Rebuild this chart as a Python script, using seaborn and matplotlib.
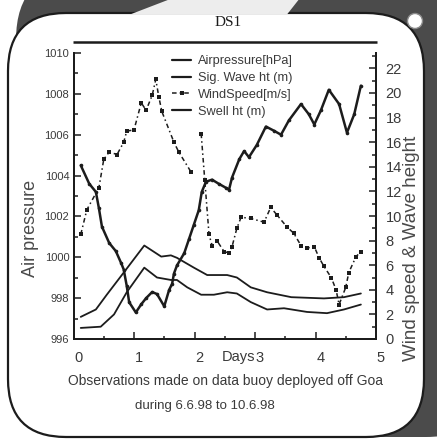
import matplotlib
matplotlib.use("Agg")
import matplotlib.pyplot as plt
from matplotlib.patches import FancyBboxPatch, Polygon, Circle
from matplotlib.lines import Line2D
from matplotlib.ticker import MultipleLocator
from matplotlib.transforms import ScaledTranslation
import pandas as pd
import seaborn as sns

# ---- data (days after deployment) ----
pressure_days = [0.12, 0.26, 0.37, 0.42, 0.47, 0.59, 0.70, 0.79, 0.83, 0.88, 0.92,
                 1.03, 1.12, 1.20, 1.30, 1.38, 1.50, 1.58, 1.63, 1.66, 1.71, 1.83,
                 1.91, 1.99, 2.07, 2.12, 2.19, 2.29, 2.40, 2.52, 2.57, 2.62, 2.74,
                 2.82, 2.90, 3.03, 3.18, 3.31, 3.43, 3.56, 3.76, 3.89, 3.98, 4.09,
                 4.22, 4.39, 4.52, 4.64, 4.75]
pressure_hpa = [1004.5, 1003.6, 1003.2, 1002.4, 1001.5, 1000.7, 1000.3, 999.7, 999.4,
                998.6, 997.8, 997.3, 997.7, 998.0, 998.3, 998.2, 997.6, 998.4, 998.7,
                999.2, 999.6, 1000.2, 1000.9, 1001.6, 1002.3, 1003.2, 1003.7, 1003.8,
                1003.6, 1003.4, 1003.3, 1003.9, 1004.8, 1005.2, 1004.9, 1005.5, 1006.4,
                1006.2, 1006.0, 1006.7, 1007.5, 1007.0, 1006.5, 1007.2, 1008.2, 1007.5,
                1006.1, 1007.0, 1008.4]

wave_days = [0.12, 0.37, 0.55, 0.83, 1.17, 1.45, 1.61, 1.71, 1.99, 2.21, 2.54, 2.70,
             2.93, 3.20, 3.60, 4.14, 4.47, 4.75]
sig_wave_ht = [1.8, 2.4, 3.6, 5.4, 7.6, 6.7, 6.8, 6.6, 5.8, 5.2, 5.2, 5.0, 4.2, 3.8,
               3.4, 3.3, 3.4, 3.7]

swell_days = [0.12, 0.45, 0.67, 0.88, 1.17, 1.38, 1.61, 1.71, 1.88, 2.11, 2.32, 2.54,
              2.70, 2.93, 3.20, 3.48, 3.86, 4.19, 4.47, 4.75]
swell_ht = [0.9, 1.0, 2.0, 3.8, 5.8, 5.0, 4.8, 4.8, 4.2, 3.6, 3.6, 3.8, 3.7, 3.0, 2.4,
            2.5, 2.2, 2.1, 2.4, 2.8]

wind_days_a = [0.12, 0.22, 0.42, 0.50, 0.59, 0.72, 0.83, 0.88, 1.00, 1.12, 1.20, 1.30,
               1.36, 1.41, 1.46, 1.66, 1.74, 1.94]
wind_speed_a = [8.5, 10.5, 12.3, 14.6, 15.2, 15.0, 16.0, 16.9, 17.0, 19.2, 18.6, 19.8,
                21.1, 19.7, 18.5, 16.0, 15.2, 13.6]
wind_days_b = [2.11, 2.17, 2.24, 2.29, 2.37, 2.49, 2.57, 2.62, 2.70, 2.77, 2.93, 3.15,
               3.26, 3.36, 3.53, 3.64, 3.76, 3.86, 3.98, 4.06, 4.14, 4.26, 4.34, 4.39,
               4.50, 4.55, 4.67, 4.75]
wind_speed_b = [16.7, 12.9, 8.5, 7.6, 8.0, 7.1, 7.0, 7.5, 9.0, 9.9, 9.8, 9.5, 10.7,
                10.1, 9.1, 8.6, 7.6, 7.4, 7.5, 6.6, 5.9, 5.0, 4.0, 2.8, 4.2, 5.4, 6.7, 7.1]

day_ticks = [0, 1, 2, 3, 4, 5]
pressure_ticks = [996, 998, 1000, 1002, 1004, 1006, 1008, 1010]
right_ticks = list(range(0, 23, 2))
legend_labels = ["Airpressure[hPa]", "Sig. Wave ht (m)", "WindSpeed[m/s]", "Swell ht (m)"]

pressure_df = pd.DataFrame({"day": pressure_days, "hPa": pressure_hpa})
wave_df = pd.DataFrame({"day": wave_days, "m": sig_wave_ht})
swell_df = pd.DataFrame({"day": swell_days, "m": swell_ht})
wind_df = pd.DataFrame({
    "day": wind_days_a + wind_days_b,
    "ms": wind_speed_a + wind_speed_b,
    "segment": [0] * len(wind_days_a) + [1] * len(wind_days_b),
})

sns.set_theme(style="white")
plt.rcParams["font.family"] = ["Liberation Sans", "DejaVu Sans"]
INK = "#1c1c1c"
GREY_TXT = "#3a3a3a"

W, H = 437, 443
fig = plt.figure(figsize=(W / 100, H / 100), dpi=100)
fig.patch.set_facecolor("white")

# ---- card frame drawn in pixel space ----
deco = fig.add_axes([0, 0, 1, 1], zorder=0)
deco.set_xlim(0, W)
deco.set_ylim(H, 0)
deco.axis("off")
deco.add_patch(FancyBboxPatch((16, -30), 480, 467,
                              boxstyle="round,pad=0,rounding_size=70",
                              fc="#4b4b4b", ec="none", zorder=1))
deco.add_patch(FancyBboxPatch((8, 13), 416, 424,
                              boxstyle="round,pad=0,rounding_size=58",
                              fc="white", ec=INK, lw=1.6, zorder=2))
deco.add_patch(Polygon([(130, 14.5), (173, -2), (300, -2), (287, 14.5)],
                       closed=True, fc="#ededed", ec="none", zorder=3))
deco.add_patch(Circle((415, 21), 7.5, fc="white", ec="#8a8a8a", lw=1, zorder=3))
deco.plot([73, 377], [42, 42], color=INK, lw=1.8, solid_capstyle="butt", zorder=4)

# ---- main axes ----
x0, x1, ytop, ybot = 73.5, 376, 53, 339
ax = fig.add_axes([x0 / W, 1 - ybot / H, (x1 - x0) / W, (ybot - ytop) / H], zorder=2)
ax.patch.set_alpha(0)
ax2 = ax.twinx()
ax2.patch.set_alpha(0)

sns.lineplot(data=pressure_df, x="day", y="hPa", ax=ax, color=INK, lw=1.8,
             marker="o", markersize=2.6, markeredgewidth=0, legend=False)
sns.lineplot(data=wave_df, x="day", y="m", ax=ax2, color=INK, lw=1.3, legend=False)
sns.lineplot(data=swell_df, x="day", y="m", ax=ax2, color=INK, lw=1.3, legend=False)
sns.lineplot(data=wind_df, x="day", y="ms", units="segment", estimator=None, ax=ax2,
             color=INK, lw=1.1, linestyle=(0, (3, 2, 1, 2)), marker="s",
             markersize=2.4, markeredgewidth=0, legend=False)

ax.set_xlim(0, 5)
ax.set_ylim(996, 1010)
ax2.set_ylim(0, (ybot - ytop) / 12.3)

for a in (ax, ax2):
    a.set_xlabel("")
    a.set_ylabel("")
    a.spines["top"].set_visible(False)
    for s in ("left", "right", "bottom"):
        a.spines[s].set_color(INK)
        a.spines[s].set_linewidth(1.4)

ax.set_xticks(day_ticks)
ax.set_xticklabels([str(d) for d in day_ticks])
ax.xaxis.set_minor_locator(MultipleLocator(0.5))
ax.set_yticks(pressure_ticks)
ax.set_yticklabels([str(p) for p in pressure_ticks])
ax.yaxis.set_minor_locator(MultipleLocator(1))
ax2.set_yticks(right_ticks)
ax2.set_yticklabels([str(t) for t in right_ticks])
ax2.yaxis.set_minor_locator(MultipleLocator(1))

ax.tick_params(axis="x", which="both", direction="in", color=INK, width=1.1,
               labelsize=10.5, labelcolor=GREY_TXT, pad=9, bottom=True)
ax.tick_params(axis="x", which="major", length=5)
ax.tick_params(axis="x", which="minor", length=2.5)
ax.tick_params(axis="y", which="both", direction="in", color=INK, width=1.1,
               labelsize=8, labelcolor=GREY_TXT, pad=3, left=True)
ax.tick_params(axis="y", which="major", length=5)
ax.tick_params(axis="y", which="minor", length=3)
ax2.tick_params(axis="y", which="both", direction="in", color=INK, width=1.1,
                labelsize=10.5, labelcolor=GREY_TXT, pad=7, right=True)
ax2.tick_params(axis="y", which="major", length=5)
ax2.tick_params(axis="y", which="minor", length=3)

shift = ScaledTranslation(5 / 100, 0, fig.dpi_scale_trans)
for lbl in ax.get_xticklabels():
    lbl.set_transform(lbl.get_transform() + shift)

# ---- legend ----
handles = [
    Line2D([], [], color=INK, lw=1.6),
    Line2D([], [], color=INK, lw=1.6),
    Line2D([], [], color=INK, lw=1.1, linestyle=(0, (3, 2, 1, 2)), marker="s",
           markersize=2.4, markeredgewidth=0),
    Line2D([], [], color=INK, lw=1.6),
]
leg = ax2.legend(handles, legend_labels, loc="upper left",
                 bbox_to_anchor=((167 - x0) / (x1 - x0), 1.01), frameon=False,
                 fontsize=9.2, handlelength=1.5, handletextpad=0.5,
                 labelspacing=0.38, borderaxespad=0.0)
for t in leg.get_texts():
    t.set_color(GREY_TXT)

# ---- text ----
fig.text(228 / W, 1 - 23 / H, "DS1", ha="center", va="center", fontsize=11, color=INK,
         family=["Liberation Serif", "DejaVu Serif"])
fig.text(255 / W, 1 - 357 / H, "Days", ha="right", va="center", fontsize=10.5,
         color=GREY_TXT)
fig.text(31 / W, 1 - 228 / H, "Air pressure", rotation=90, ha="center", va="center",
         fontsize=13, color="#4a4a4a")
fig.text(412 / W, 1 - 248 / H, "Wind speed & Wave height", rotation=90, ha="center",
         va="center", fontsize=13.5, color="#4a4a4a")
fig.text(226 / W, 1 - 381 / H, "Observations made on data buoy deployed off Goa",
         ha="center", va="center", fontsize=10, color=GREY_TXT)
fig.text(205 / W, 1 - 406 / H, "during 6.6.98 to 10.6.98", ha="center", va="center",
         fontsize=9.5, color=GREY_TXT)

fig.savefig("out.png", dpi=100)
